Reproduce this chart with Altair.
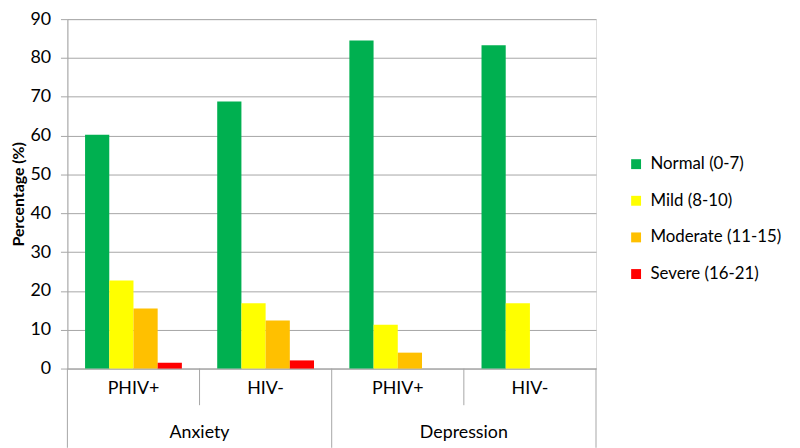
import altair as alt
import pandas as pd

groups = ["Anxiety", "Anxiety", "Depression", "Depression"]
subgroups = ["PHIV+", "HIV-", "PHIV+", "HIV-"]
series = ["Normal (0-7)", "Mild (8-10)", "Moderate (11-15)", "Severe (16-21)"]
colors = ["#00B050", "#FFFF00", "#FFC000", "#FF0000"]
normal = [60.2, 68.8, 84.5, 83.3]
mild = [22.7, 16.8, 11.3, 16.8]
moderate = [15.5, 12.4, 4.1, 0.0]
severe = [1.5, 2.1, 0.0, 0.0]
y_ticks = [0, 10, 20, 30, 40, 50, 60, 70, 80, 90]

keys = [g + "|" + s for g, s in zip(groups, subgroups)]
rows = []
for i, k in enumerate(keys):
    for name, vals in zip(series, [normal, mild, moderate, severe]):
        rows.append({"key": k, "series": name, "value": vals[i]})
df = pd.DataFrame(rows)

FONT = "Lato"
GRAY = "#A6A6A6"
W, H = 534, 353

xscale = alt.Scale(domain=keys, paddingInner=0, paddingOuter=0)
x_axis = alt.Axis(title=None, labelExpr="split(datum.label, '|')[1]",
                  ticks=False, labelAngle=0, labelFontSize=18,
                  labelPadding=11, labelColor="#000000",
                  domainColor=GRAY, grid=False)

bars = alt.Chart(df).mark_bar().encode(
    x=alt.X("key:N", scale=xscale, sort=keys, axis=x_axis),
    xOffset=alt.XOffset("series:N", sort=series,
                        scale=alt.Scale(paddingInner=0, paddingOuter=0.73)),
    y=alt.Y("value:Q", scale=alt.Scale(domain=[0, 90], nice=False),
            axis=alt.Axis(values=y_ticks, title="Percentage (%)",
                          titleFontSize=16, titleFontWeight="bold",
                          titleColor="#000000", titlePadding=3,
                          labelFontSize=18, labelColor="#000000",
                          labelPadding=10, tickSize=7, tickColor=GRAY,
                          domainColor=GRAY, gridColor=GRAY)),
    color=alt.Color("series:N", sort=series,
                    scale=alt.Scale(domain=series, range=colors),
                    legend=alt.Legend(title=None, orient="none",
                                      legendX=566, legendY=138,
                                      symbolType="square", symbolSize=100,
                                      symbolStrokeWidth=0,
                                      labelFontSize=17, labelColor="#000000",
                                      rowPadding=19, labelOffset=6,
                                      padding=0)),
)

sub_sep = alt.Chart(pd.DataFrame({"key": [keys[1], keys[3]]})).mark_rule(
    color=GRAY).encode(
    x=alt.X("key:N", scale=xscale, sort=keys, bandPosition=0, axis=x_axis),
    y=alt.value(H), y2=alt.value(H + 37))

grp_sep = alt.Chart(pd.DataFrame({"key": [keys[0], keys[2]]})).mark_rule(
    color=GRAY).encode(
    x=alt.X("key:N", scale=xscale, sort=keys, bandPosition=0, axis=x_axis),
    y=alt.value(H), y2=alt.value(H + 80))

right_sep = alt.Chart(pd.DataFrame({"key": [keys[3]]})).mark_rule(
    color=GRAY).encode(
    x=alt.X("key:N", scale=xscale, sort=keys, bandPosition=1, axis=x_axis),
    y=alt.value(H), y2=alt.value(H + 80))

grp_labels = alt.Chart(pd.DataFrame({"key": [keys[1], keys[3]],
                                     "label": [groups[0], groups[2]]})).mark_text(
    fontSize=18, font=FONT, color="#000000", baseline="middle").encode(
    x=alt.X("key:N", scale=xscale, sort=keys, bandPosition=0, axis=x_axis),
    y=alt.value(H + 65), text="label:N")

chart = alt.layer(bars, sub_sep, grp_sep, right_sep, grp_labels).properties(
    width=W, height=H,
    autosize=alt.AutoSizeParams(type="none"),
    padding={"left": 60, "top": 9, "right": 198, "bottom": 78},
).configure_view(stroke=None).configure(font=FONT)

chart.save("out.html", embed_options={"renderer": "svg", "actions": False})
